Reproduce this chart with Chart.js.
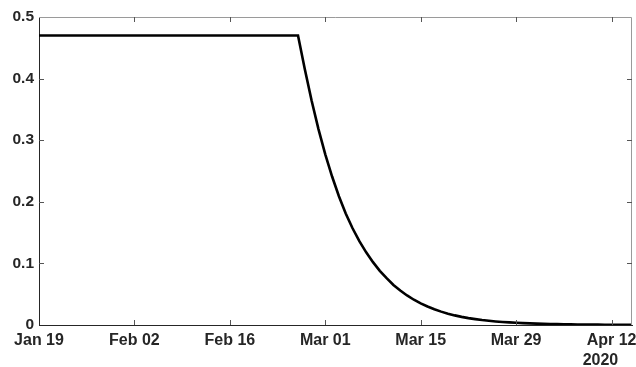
<!DOCTYPE html>
<html lang="en">
<head>
    <meta charset="UTF-8">
    <title>Decay curve</title>
    <script src="https://cdn.jsdelivr.net/npm/chart.js@4.4.0/dist/chart.umd.min.js"></script>
    <style>
        body{
            margin: 0;
            background: white;
        }
    </style>
</head>
<body>
    <canvas id="myChart" width="636" height="367"></canvas>
    <script>
        // days counted from Jan 19 2020
        const dayOffsets = [0, 38, 39, 40, 41, 42, 43, 44, 45, 46, 47, 48, 49, 50, 51, 52, 53, 54, 55, 56, 57, 58, 59, 60,
            61, 62, 63, 64, 65, 66, 67, 68, 69, 70, 71, 72, 73, 74, 75, 76, 77, 78, 79, 80, 81, 82, 83, 84, 85, 86, 87];
        const values = [0.47, 0.47, 0.415, 0.364, 0.318, 0.277, 0.241, 0.209, 0.181, 0.157, 0.136, 0.118, 0.102, 0.088,
            0.076, 0.065, 0.056, 0.048, 0.041, 0.035, 0.030, 0.0255, 0.0217, 0.0184, 0.0156, 0.0132, 0.0112, 0.0095,
            0.0080, 0.0068, 0.0058, 0.0049, 0.0042, 0.0036, 0.0031, 0.0026, 0.0022, 0.0019, 0.0016, 0.0014, 0.0012,
            0.0010, 0.0009, 0.0008, 0.0007, 0.0006, 0.0005, 0.0004, 0.0004, 0.0003, 0.0003];
        const xTickDays = [0, 14, 28, 42, 56, 70, 84];
        const xTickLabels = ['Jan 19', 'Feb 02', 'Feb 16', 'Mar 01', 'Mar 15', 'Mar 29', ['Apr 12', '2020     ']];
        const yTickValues = [0, 0.1, 0.2, 0.3, 0.4, 0.5];
        const yTickLabels = ['0', '0.1', '0.2', '0.3', '0.4', '0.5'];

        const points = dayOffsets.map(function(d, i){ return {x: d, y: values[i]}; });

        // box on the top/right plus inward ticks like matlab
        const boxPlugin = {
            id: 'box',
            afterDraw: function(chart){
                var ctx = chart.ctx;
                var a = chart.chartArea;
                var xs = chart.scales.x, ys = chart.scales.y;
                ctx.save();
                ctx.lineWidth = 1;
                ctx.strokeStyle = '#9a9a9a';
                ctx.beginPath();
                ctx.moveTo(a.left, a.top + 0.5);
                ctx.lineTo(a.right - 0.5, a.top + 0.5);
                ctx.lineTo(a.right - 0.5, a.bottom);
                ctx.stroke();
                ctx.strokeStyle = '#555';
                for (var i = 1; i < xTickDays.length; i++) {
                    var px = Math.round(xs.getPixelForValue(xTickDays[i])) + 0.5;
                    ctx.beginPath();
                    ctx.moveTo(px, a.bottom);
                    ctx.lineTo(px, a.bottom - 5);
                    ctx.moveTo(px, a.top);
                    ctx.lineTo(px, a.top + 5);
                    ctx.stroke();
                }
                for (var j = 1; j < yTickValues.length - 1; j++) {
                    var py = Math.round(ys.getPixelForValue(yTickValues[j])) + 0.5;
                    ctx.beginPath();
                    ctx.moveTo(a.left, py);
                    ctx.lineTo(a.left + 5, py);
                    ctx.moveTo(a.right, py);
                    ctx.lineTo(a.right - 5, py);
                    ctx.stroke();
                }
                ctx.restore();
            }
        };

        const ctx = document.getElementById('myChart').getContext('2d');
        const myChart = new Chart(ctx, {
            type: 'line',
            data: {
                datasets: [{
                    data: points,
                    borderColor: '#000',
                    borderWidth: 2.6,
                    pointRadius: 0,
                    tension: 0,
                    fill: false
                }]
            },
            options: {
                responsive: false,
                animation: false,
                layout: {padding: {top: 17, right: 4, left: 0, bottom: 0}},
                plugins: {
                    legend: {display: false},
                    tooltip: {enabled: false}
                },
                scales: {
                    x: {
                        type: 'linear',
                        min: 0,
                        max: 87,
                        afterBuildTicks: function(scale){
                            scale.ticks = xTickDays.map(function(v){ return {value: v}; });
                        },
                        afterFit: function(scale){
                            scale.height = 42;
                            scale.paddingLeft = 0;
                            scale.paddingRight = 0;
                        },
                        grid: {drawOnChartArea: false, drawTicks: false},
                        border: {color: '#262626', width: 1},
                        ticks: {
                            autoSkip: false,
                            maxRotation: 0,
                            padding: 6,
                            color: '#262626',
                            font: {family: 'Liberation Sans', size: 16, weight: 'bold', lineHeight: 1.22},
                            callback: function(value){
                                var k = xTickDays.indexOf(value);
                                return k >= 0 ? xTickLabels[k] : '';
                            }
                        }
                    },
                    y: {
                        min: 0,
                        max: 0.5,
                        afterBuildTicks: function(scale){
                            scale.ticks = yTickValues.map(function(v){ return {value: v}; });
                        },
                        afterFit: function(scale){
                            scale.width = 39;
                        },
                        grid: {drawOnChartArea: false, drawTicks: false},
                        border: {color: '#262626', width: 1},
                        ticks: {
                            padding: 5,
                            color: '#262626',
                            font: {family: 'Liberation Sans', size: 15.5, weight: 'bold'},
                            callback: function(value){
                                var k = yTickValues.indexOf(value);
                                return k >= 0 ? yTickLabels[k] : '';
                            }
                        }
                    }
                }
            },
            plugins: [boxPlugin]
        });
    </script>
</body>
</html>
